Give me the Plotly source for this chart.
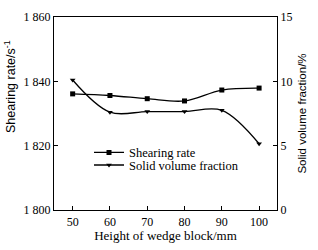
import plotly.graph_objects as go

heights = [50, 60, 70, 80, 90, 100]
shearing_rate = [1836.1, 1835.6, 1834.6, 1833.9, 1837.3, 1837.9]
solid_fraction = [10.1, 7.6, 7.65, 7.65, 7.75, 5.15]

x_ticks = [50, 60, 70, 80, 90, 100]
y_ticks = [1800, 1820, 1840, 1860]
y_tick_labels = ["1 800", "1 820", "1 840", "1 860"]
y2_ticks = [0, 5, 10, 15]

serif = "Liberation Serif"
sans = "Liberation Sans"

fig = go.Figure()
fig.add_trace(go.Scatter(
    x=heights, y=shearing_rate, name="Shearing rate", legend="legend",
    mode="lines+markers", line=dict(color="black", width=1.3, shape="spline", smoothing=1),
    marker=dict(symbol="square", size=5, color="black"),
))
fig.add_trace(go.Scatter(
    x=heights, y=solid_fraction, name="Solid volume fraction", yaxis="y2", legend="legend2",
    mode="lines+markers", line=dict(color="black", width=1.3, shape="spline", smoothing=1),
    marker=dict(symbol="triangle-down", size=5, color="black"),
))

axis_common = dict(showline=True, linecolor="black", linewidth=1.2, ticks="inside",
                   ticklen=4, tickcolor="black", showgrid=False, zeroline=False)

leg_common = dict(xanchor="left", yanchor="top", bgcolor="rgba(0,0,0,0)",
                  font=dict(family=serif, size=12.5), itemwidth=30)

fig.update_layout(
    width=318, height=250,
    margin=dict(l=54, r=41, t=10, b=39),
    paper_bgcolor="white", plot_bgcolor="white",
    font=dict(family=serif, color="black", size=12),
    showlegend=True,
    legend=dict(x=0.157, y=0.374, **leg_common),
    legend2=dict(x=0.157, y=0.309, **leg_common),
    xaxis=dict(range=[45, 104.8], tickvals=x_ticks, mirror=True,
               title=dict(text="Height of wedge block/mm", font=dict(family=serif, size=13), standoff=2),
               tickfont=dict(family=serif, size=12), **axis_common),
    yaxis=dict(range=[1800, 1860], tickvals=y_ticks, ticktext=y_tick_labels,
               tickfont=dict(family=serif, size=12), **axis_common),
    yaxis2=dict(range=[0, 15], tickvals=y2_ticks, overlaying="y", side="right",
                title=dict(text="Solid volume fraction/%", font=dict(family=sans, size=11.5), standoff=6),
                tickfont=dict(family=serif, size=12), **axis_common),
    annotations=[dict(text="Shearing rate/s<sup>-1</sup>", xref="paper", yref="paper",
                      x=-0.195, y=0.64, xanchor="center", yanchor="middle", textangle=-90,
                      showarrow=False, font=dict(family=sans, size=12.5))],
)

fig.write_html("out.html")
